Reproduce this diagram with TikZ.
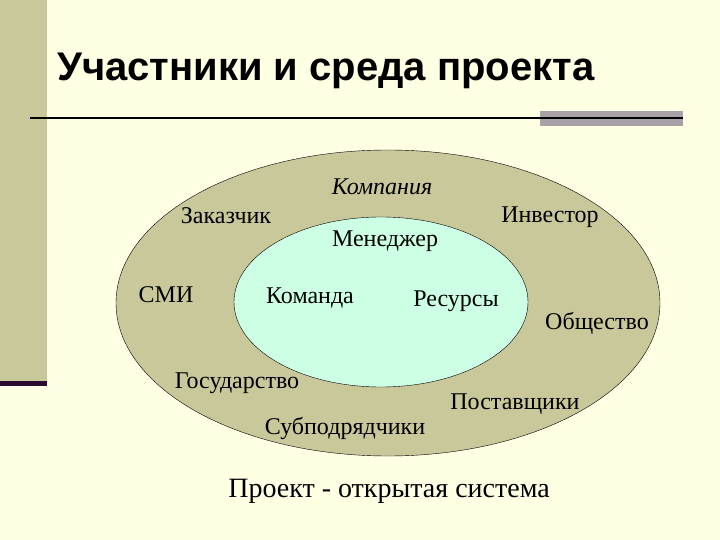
\documentclass[tikz,border=0pt]{standalone}
\usepackage{fontspec}
\setmainfont{Liberation Serif}
\newfontfamily\titlefont{Liberation Sans}
\usepackage{xcolor}
\usetikzlibrary{shapes.geometric}
\definecolor{slidebg}{HTML}{FFFFE3}
\definecolor{olive}{HTML}{C8C89B}
\definecolor{mint}{HTML}{CCFFE3}
\definecolor{barpurple}{HTML}{2A0A30}
\definecolor{bargray}{HTML}{A8A2A8}

\begin{document}
\begin{tikzpicture}[x=1pt,y=-1pt,
    word/.style={font=\fontsize{24}{26}\selectfont,inner sep=0pt}]
                \fill[slidebg] (0,0) rectangle (720,540);
                \useasboundingbox (0,0) rectangle (720,540);
                \fill[olive] (0,0) rectangle (47,381);
                \fill[barpurple] (0,381) rectangle (47,386);
                \fill[bargray] (540,111) rectangle (683,126);
                \coordinate (rulestart) at (30,118);
                \coordinate (ruleend) at (683,118);
                \draw[line width=1.3pt,black] (rulestart) -- (ruleend);
                \node[anchor=base west,inner sep=0pt,font=\titlefont\bfseries\fontsize{40}{44}\selectfont](title) at (57,81){Участники и среда проекта};
                \node[draw,ellipse,fill=olive,minimum width=544pt,minimum height=306pt,inner sep=0pt](outer) at (388,303){};
                \node[draw,ellipse,fill=mint,minimum width=294pt,minimum height=170pt,inner sep=0pt](inner) at (381,302){};
                \foreach \n/\x/\y/\t in {
                    kompaniya/382/187/\itshape Компания,
                    zakazchik/226/216/Заказчик,
                    investor/550/217/Инвестор,
                    menedzher/385/241/Менеджер,
                    smi/166/295/СМИ,
                    komanda/310/298/Команда,
                    resursy/456/301/Ресурсы,
                    obshchestvo/597/323/Общество,
                    gosudarstvo/237/383/Государство,
                    postavshchiki/515/404/Поставщики,
                    subpodryadchiki/345/428/Субподрядчики
                }
                \node[word](\n) at (\x,\y){\t};
                \node[inner sep=0pt,font=\fontsize{28}{30}\selectfont](caption) at (389,491){Проект - открытая система};
            \end{tikzpicture}
\end{document}
